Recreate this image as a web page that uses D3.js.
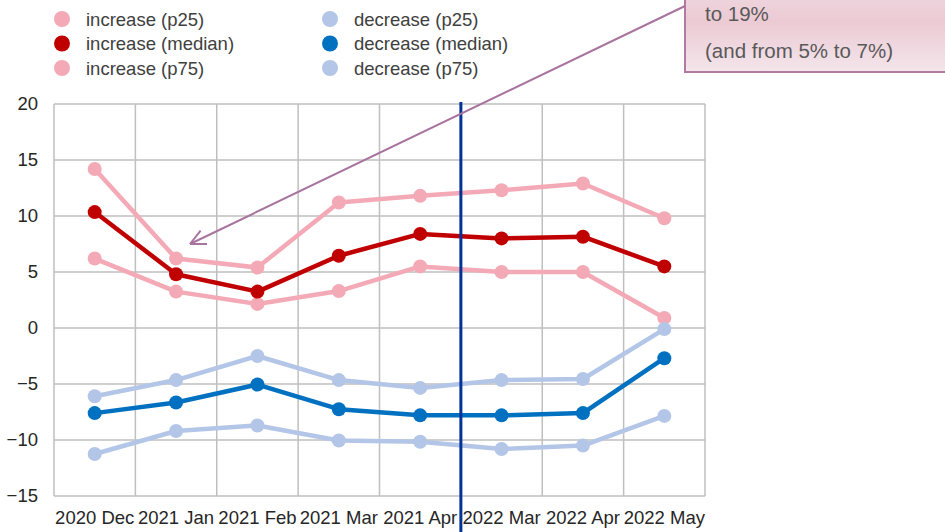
<!DOCTYPE html>
<html><head><meta charset="utf-8">
<script src="https://cdn.jsdelivr.net/npm/d3@7"></script>
<style>
html,body{margin:0;padding:0;background:#fff;}
svg{display:block;font-family:"Liberation Sans",Arial,sans-serif;}
</style></head>
<body>
<svg id="c" width="945" height="532"></svg>
<script>
const categories = ["2020 Dec","2021 Jan","2021 Feb","2021 Mar","2021 Apr","2022 Mar","2022 Apr","2022 May"];
const yTicks = [-15,-10,-5,0,5,10,15,20];
const increaseP25 = [6.2, 3.25, 2.15, 3.3, 5.5, 5.0, 5.0, 0.9];
const increaseMedian = [10.35, 4.8, 3.25, 6.45, 8.4, 8.0, 8.15, 5.5];
const increaseP75 = [14.2, 6.2, 5.4, 11.2, 11.8, 12.3, 12.9, 9.8];
const decreaseP25 = [-11.25, -9.2, -8.7, -10.05, -10.15, -10.8, -10.5, -7.85];
const decreaseMedian = [-7.6, -6.65, -5.05, -7.25, -7.8, -7.8, -7.6, -2.7];
const decreaseP75 = [-6.1, -4.65, -2.5, -4.65, -5.35, -4.65, -4.55, -0.1];
const seriesNames = ["increase (p25)","increase (median)","increase (p75)","decrease (p25)","decrease (median)","decrease (p75)"];
const annotationLines = ["to 19%","(and from 5% to 7%)"];

const svg = d3.select("#c");
const FONT = "\"Liberation Sans\",Arial,sans-serif";
const L = 54, R = 705, T = 104, B = 496;
const x = d3.scaleBand().domain(categories).range([L, R]).padding(0);
const y = d3.scaleLinear().domain([-15, 20]).range([B, T]);

const pink = "#F4AAB6", red = "#C00000", lblue = "#B4C6E7", blue = "#0070C0";
const series = [
  {name: seriesNames[0], vals: increaseP25, color: pink},
  {name: seriesNames[2], vals: increaseP75, color: pink},
  {name: seriesNames[1], vals: increaseMedian, color: red},
  {name: seriesNames[3], vals: decreaseP25, color: lblue},
  {name: seriesNames[5], vals: decreaseP75, color: lblue},
  {name: seriesNames[4], vals: decreaseMedian, color: blue}
];

// grid
const g = svg.append("g");
g.selectAll("line.h").data(yTicks).enter().append("line")
  .attr("x1", L).attr("x2", R).attr("y1", d => y(d)).attr("y2", d => y(d))
  .attr("stroke", "#BFBFBF").attr("stroke-width", 1.5);
const xb = categories.map(c => x(c)).concat([R]);
g.selectAll("line.v").data(xb).enter().append("line")
  .attr("x1", d => d).attr("x2", d => d).attr("y1", T).attr("y2", B)
  .attr("stroke", "#BFBFBF").attr("stroke-width", 1.5);

// y axis labels
const yAxis = d3.axisLeft(y).tickValues(yTicks).tickSize(0).tickPadding(16);
const ya = svg.append("g").attr("transform", `translate(${L},0)`).call(yAxis);
ya.select(".domain").remove();
ya.selectAll("text").attr("font-size", 18.5).attr("fill", "#262626").attr("font-family", FONT);

// x axis labels
const xAxis = d3.axisBottom(x).tickSize(0).tickPadding(0);
const xa = svg.append("g").attr("transform", `translate(0,${B})`).call(xAxis);
xa.select(".domain").remove();
xa.selectAll("text").attr("font-size", 18.5).attr("fill", "#262626").attr("font-family", FONT)
  .attr("dy", null).attr("y", 28);

// series
const cx = c => x(c) + x.bandwidth() / 2;
const line = d3.line().x((d, i) => cx(categories[i])).y(d => y(d));
series.forEach(s => {
  const sg = svg.append("g");
  sg.append("path").datum(s.vals).attr("d", line).attr("fill", "none")
    .attr("stroke", s.color).attr("stroke-width", 4.5).attr("stroke-linejoin", "round");
  sg.selectAll("circle").data(s.vals).enter().append("circle")
    .attr("cx", (d, i) => cx(categories[i])).attr("cy", d => y(d)).attr("r", 7)
    .attr("fill", s.color);
});

// vertical marker line between 2021 Apr and 2022 Mar
const vx = x("2022 Mar");
svg.append("line").attr("x1", vx).attr("x2", vx).attr("y1", 102).attr("y2", 532)
  .attr("stroke", "#003399").attr("stroke-width", 3);

// legend
const legend = [
  {name: seriesNames[0], color: pink, col: 0, row: 0},
  {name: seriesNames[1], color: red, col: 0, row: 1},
  {name: seriesNames[2], color: pink, col: 0, row: 2},
  {name: seriesNames[3], color: lblue, col: 1, row: 0},
  {name: seriesNames[4], color: blue, col: 1, row: 1},
  {name: seriesNames[5], color: lblue, col: 1, row: 2}
];
const lg = svg.append("g");
legend.forEach(l => {
  const lx = l.col === 0 ? 62 : 330, ly = 19 + l.row * 24.5;
  lg.append("circle").attr("cx", lx).attr("cy", ly).attr("r", 8).attr("fill", l.color);
  lg.append("text").attr("x", lx + 24).attr("y", ly + 6.5).attr("font-size", 18.5)
    .attr("fill", "#404040").attr("font-family", FONT).text(l.name);
});

// annotation box
const defs = svg.append("defs");
const grad = defs.append("linearGradient").attr("id", "bg").attr("x1", 0).attr("x2", 0).attr("y1", 0).attr("y2", 1);
grad.append("stop").attr("offset", "0%").attr("stop-color", "#F1E4EA");
grad.append("stop").attr("offset", "55%").attr("stop-color", "#ECCAD4");
grad.append("stop").attr("offset", "100%").attr("stop-color", "#F3E6EB");
svg.append("rect").attr("x", 685).attr("y", -40).attr("width", 300).attr("height", 112)
  .attr("fill", "url(#bg)").attr("stroke", "#B07BA3").attr("stroke-width", 2);
annotationLines.forEach((t, i) => {
  svg.append("text").attr("x", 705).attr("y", 21 + i * 37).attr("font-size", 20.5)
    .attr("fill", "#595959").attr("font-family", FONT).text(t);
});

// arrow
const ax1 = 685, ay1 = 6, ax2 = 190, ay2 = 244;
const ac = "#A8739E";
svg.append("line").attr("x1", ax1).attr("y1", ay1).attr("x2", ax2).attr("y2", ay2)
  .attr("stroke", ac).attr("stroke-width", 2);
const ang = Math.atan2(ay1 - ay2, ax1 - ax2);
[0.45, -0.45].forEach(da => {
  svg.append("line").attr("x1", ax2).attr("y1", ay2)
    .attr("x2", ax2 + 17 * Math.cos(ang + da)).attr("y2", ay2 + 17 * Math.sin(ang + da))
    .attr("stroke", ac).attr("stroke-width", 2);
});
</script>
</body></html>
